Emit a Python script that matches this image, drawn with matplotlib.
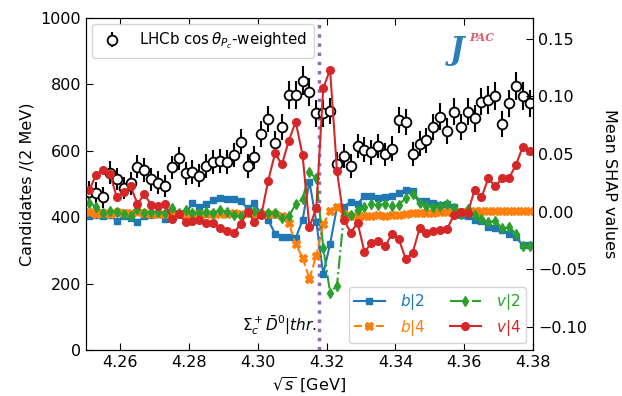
import numpy as np
import matplotlib
matplotlib.use("Agg")
import matplotlib.pyplot as plt

# bin centres (2 MeV bins)
sqrt_s = np.round(4.251 + 0.002 * np.arange(65), 3)

lhcb_counts = [477, 472, 460, 534, 515, 487, 502, 552, 542, 514, 504,
               494, 550, 577, 532, 536, 525, 554, 567, 570, 566, 587,
               627, 554, 580, 651, 696, 624, 671, 768, 768, 811, 778,
               713, 713, 720, 560, 584, 554, 614, 604, 595, 614,
               589, 607, 693, 688, 590, 622, 632, 673, 703, 660, 718,
               673, 718, 698, 748, 753, 765, 680, 743, 795, 765, 743]
lhcb_err = [33, 33, 32, 35, 34, 33, 34, 35, 35, 34, 34,
            33, 35, 36, 35, 35, 34, 35, 36, 36, 36, 36,
            38, 35, 36, 38, 40, 37, 39, 42, 42, 43, 42,
            40, 40, 40, 35, 36, 35, 37, 37, 37, 37,
            36, 37, 39, 39, 36, 37, 38, 39, 40, 38, 40,
            39, 40, 40, 41, 41, 41, 39, 41, 42, 41, 41]

shap_b2 = [-0.004, -0.003, -0.004, -0.003, -0.008, -0.004, -0.005, -0.009, -0.004, -0.003, -0.002,
           -0.0065, -0.003, -0.001, -0.002, 0.0073, 0.004, 0.0067, 0.010, 0.012, 0.0107, 0.011,
           0.009, 0.003, 0.0073, -0.002, -0.007, -0.019, -0.022, -0.022, -0.023, -0.007, 0.026,
           -0.0087, -0.054, -0.028, 0.004, 0.0043, 0.0087, 0.0067, 0.014, 0.014, 0.0116,
           0.0125, 0.0136, 0.016, 0.019, 0.018, 0.009, 0.009, 0.0078, 0.0058, 0.0067, 0.004,
           -0.003, -0.004, -0.007, -0.008, -0.013, -0.0144, -0.016, -0.019, -0.022, -0.029, -0.029]
shap_b4 = [0.000, -0.002, -0.001, -0.002, 0.000, -0.001, -0.001, 0.000, -0.001, -0.002, -0.002,
           -0.002, -0.001, -0.002, -0.002, -0.002, -0.002, -0.002, -0.002, -0.002, -0.002, -0.001,
           -0.002, -0.001, -0.002, -0.002, -0.002, -0.002, -0.0035, -0.010, -0.028, -0.040, -0.058,
           -0.038, -0.011, 0.001, 0.004, -0.002, -0.0035, -0.0035, -0.0035, -0.0035, -0.003,
           -0.004, -0.003, -0.003, -0.002, -0.001, -0.001, -0.001, -0.001, 0.000, 0.000, 0.001,
           0.000, 0.001, 0.001, 0.001, 0.001, 0.001, 0.001, 0.001, 0.001, 0.001, 0.001]
shap_v2 = [0.008, 0.004, -0.001, 0.001, 0.000, -0.002, -0.004, 0.002, -0.0015, 0.000, 0.000,
           -0.001, 0.003, -0.0015, 0.0015, -0.001, -0.001, 0.000, -0.001, 0.0015, 0.000, -0.003,
           -0.004, 0.000, 0.001, -0.0015, -0.001, -0.0015, -0.0055, -0.004, 0.0065, 0.011, 0.034,
           0.029, -0.031, -0.070, -0.064, -0.003, -0.003, 0.0015, 0.004, 0.0067, 0.006,
           0.0067, 0.005, 0.006, 0.012, 0.0155, 0.008, 0.005, 0.004, 0.005, 0.007, 0.003,
           -0.002, 0.002, -0.003, -0.006, -0.009, -0.008, -0.014, -0.013, -0.019, -0.030, -0.030]
shap_v4 = [0.019, 0.032, 0.036, 0.033, 0.0125, 0.017, 0.022, 0.007, 0.015, 0.006, 0.005,
           0.007, -0.006, -0.002, -0.009, -0.008, -0.007, -0.0095, -0.0095, -0.014, -0.017, -0.018,
           -0.011, 0.000, -0.0085, -0.003, 0.027, 0.0505, 0.041, 0.0615, 0.078, 0.049, -0.013,
           0.003, 0.107, 0.123, 0.0355, -0.007, -0.018, -0.0095, -0.035, -0.027, -0.025,
           -0.030, -0.019, -0.024, -0.041, -0.0355, -0.0145, -0.018, -0.0165, -0.016, -0.015, -0.003,
           0.000, -0.0015, 0.019, 0.0125, 0.029, 0.022, 0.029, 0.029, 0.0405, 0.056, 0.053]

threshold = 4.3177
x_ticks = [4.26, 4.28, 4.30, 4.32, 4.34, 4.36, 4.38]
y_ticks = [0, 200, 400, 600, 800, 1000]
shap_ticks = [-0.10, -0.05, 0.00, 0.05, 0.10, 0.15]

plt.rcParams['font.family'] = ['DejaVu Sans']
plt.rcParams['font.size'] = 11.5

fig = plt.figure(figsize=(6.22, 3.96), dpi=100)
ax = fig.add_axes([0.138, 0.116, 0.719, 0.8385])

ax.errorbar(sqrt_s, lhcb_counts, yerr=lhcb_err, fmt='o', mfc='white', mec='black',
            ecolor='black', elinewidth=1.5, ms=7, mew=1.3, capsize=0,
            label=r'LHCb $\cos\theta_{P_c}$-weighted', zorder=3)
ax.axvline(threshold, color='#9467bd', ls=':', lw=2.5, zorder=2)
ax.text(threshold - 0.0006, 75, r'$\Sigma_c^+\bar{D}^0|thr.$', ha='right', va='center',
        fontsize=11)

ax.set_xlim(4.25, 4.38)
ax.set_ylim(0, 1000)
ax.set_xticks(x_ticks)
ax.set_yticks(y_ticks)
ax.set_xlabel(r'$\sqrt{s}$ [GeV]')
ax.set_ylabel('Candidates /(2 MeV)')
ax.tick_params(direction='in', top=True, right=False, length=5)

leg1 = ax.legend(loc='upper left', frameon=True, fancybox=True, edgecolor='#cccccc',
                 fontsize=10.8, borderpad=0.45, handletextpad=0.9, handlelength=1.8,
                 borderaxespad=0.4)

ax2 = ax.twinx()
c_b2, c_b4, c_v2, c_v4 = '#1f77b4', '#ff7f0e', '#2ca02c', '#d62728'
ax2.plot(sqrt_s, shap_b2, '-s', color=c_b2, ms=5, lw=1.5, label=r'$b|2$')
ax2.plot(sqrt_s, shap_b4, '--X', color=c_b4, ms=5.5, lw=1.5, label=r'$b|4$')
ax2.plot(sqrt_s, shap_v2, '-.d', color=c_v2, ms=5.5, lw=1.5, label=r'$v|2$')
ax2.plot(sqrt_s, shap_v4, '-o', color=c_v4, ms=5.5, lw=1.5, label=r'$v|4$')
ax2.set_ylim(-0.1198, 0.1678)
ax2.set_yticks(shap_ticks)
ax2.set_yticklabels([f'{t:.2f}'.replace('-', '\u2212') for t in shap_ticks])
ax2.set_ylabel('Mean SHAP values', rotation=270, labelpad=22)
ax2.tick_params(direction='in', length=5)

leg2 = ax2.legend(loc='lower right', ncol=2, frameon=True, fancybox=True,
                  edgecolor='#cccccc', fontsize=11, columnspacing=1.6,
                  handlelength=2.0, handletextpad=1.0, borderpad=0.35,
                  labelspacing=0.35, borderaxespad=0.45)
for txt, col in zip(leg2.get_texts(), [c_b2, c_b4, c_v2, c_v4]):
    txt.set_color(col)

# JPAC logo approximation
ax2.text(0.83, 0.855, 'J', transform=ax2.transAxes, color='#2a7fb8', fontsize=22,
         fontweight='bold', fontstyle='italic', family='DejaVu Serif', ha='center', va='bottom')
ax2.text(0.885, 0.925, 'PAC', transform=ax2.transAxes, color='#e06070', fontsize=8,
         fontweight='bold', fontstyle='italic', family='DejaVu Serif', ha='center', va='bottom')

fig.savefig('out.png', dpi=100)
